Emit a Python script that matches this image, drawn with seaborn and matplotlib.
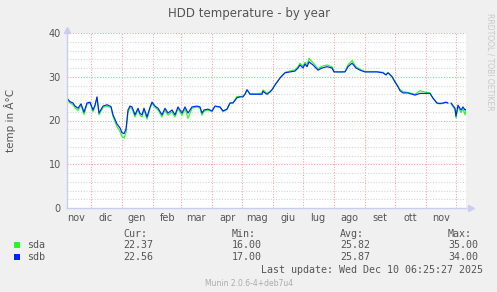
import numpy as np
import pandas as pd
import matplotlib
matplotlib.use("Agg")
import matplotlib.pyplot as plt
import matplotlib.dates as mdates
from matplotlib.ticker import MultipleLocator, FixedLocator, FixedFormatter, NullFormatter
from matplotlib.patches import Rectangle
import seaborn as sns

# ---------------- data ----------------
start_date = "2024-11-07"
end_date = "2025-12-11"

days = [0, 3, 6, 8, 11, 14, 17, 20, 23, 26, 28, 30, 32, 36, 40, 44, 46, 50, 53, 55,
        57, 59, 61, 63, 65, 68, 71, 73, 75, 77, 80, 83, 85, 88, 91, 95, 98, 101, 105, 108,
        111, 115, 118, 121, 125, 130, 133, 135, 137, 141, 145, 148, 153, 156, 160, 163, 166, 170, 173, 176,
        178, 180, 183, 190, 195, 196, 198, 200, 203, 205, 208, 213, 218, 223, 228, 231, 233, 236, 238, 240,
        242, 246, 251, 255, 260, 265, 267, 272, 278, 281, 285, 289, 293, 298, 303, 310, 316, 319, 321, 325,
        328, 331, 333, 336, 341, 348, 353, 360, 363, 366, 370, 373, 376, 379, 381, 382, 384, 388, 389, 391,
        394, 396, 398, 399]

sdb = [25.1, 24.3, 24.0, 23.3, 22.8, 23.8, 21.9, 24.0, 24.2, 22.4, 23.5, 25.4, 21.7, 23.3, 23.6, 23.2, 21.3, 19.2, 18.3, 17.2,
       17.0, 18.0, 22.4, 23.3, 23.1, 21.3, 22.8, 21.6, 21.3, 22.8, 20.8, 23.0, 24.2, 23.3, 22.8, 21.3, 22.8, 21.7, 22.4, 21.3,
       23.1, 21.7, 23.1, 21.7, 23.1, 23.3, 23.1, 21.7, 22.4, 22.6, 22.2, 23.3, 23.1, 22.2, 22.6, 24.0, 24.0, 25.2, 25.4, 25.4,
       26.0, 27.0, 26.0, 26.0, 26.0, 26.7, 26.3, 26.0, 26.5, 27.0, 28.1, 29.7, 30.9, 31.1, 31.3, 32.0, 32.7, 32.0, 32.9, 32.3,
       33.4, 32.7, 31.5, 32.0, 32.3, 32.0, 31.1, 31.1, 31.1, 32.3, 33.1, 32.0, 31.5, 31.1, 31.1, 31.1, 30.9, 30.4, 30.9, 30.0,
       28.8, 27.7, 26.8, 26.3, 26.3, 25.8, 26.2, 26.2, 26.2, 25.1, 24.0, 23.9, 24.0, 24.2, 24.0, np.nan, 24.0, 22.8, 21.0, 23.5,
       22.4, 23.1, 22.4, 22.56]

sda = [24.9, 24.0, 23.6, 22.9, 22.3, 23.5, 21.4, 23.7, 24.0, 22.0, 23.2, 25.2, 21.3, 23.0, 23.3, 22.9, 20.9, 18.6, 17.5, 16.3,
       16.0, 17.2, 21.9, 23.0, 22.7, 20.8, 22.4, 21.2, 20.8, 22.4, 20.3, 22.7, 23.9, 23.0, 22.4, 20.8, 22.4, 21.2, 22.0, 20.8,
       22.7, 21.2, 22.7, 20.5, 22.8, 23.1, 22.8, 21.2, 22.1, 22.4, 22.0, 23.2, 23.0, 22.0, 22.5, 24.0, 24.1, 25.5, 25.5, 25.6,
       26.1, 27.1, 26.1, 26.1, 26.3, 27.0, 26.6, 26.2, 26.7, 27.1, 28.2, 29.8, 31.0, 31.3, 31.6, 32.3, 33.1, 32.4, 33.3, 32.7,
       34.2, 33.2, 31.8, 32.4, 32.7, 32.3, 31.2, 31.1, 31.2, 32.7, 33.7, 32.3, 31.7, 31.2, 31.2, 31.2, 31.0, 30.5, 31.0, 30.1,
       28.9, 27.9, 27.1, 26.6, 26.4, 26.0, 26.8, 26.4, 26.3, 25.1, 23.9, 23.8, 23.9, 24.1, 23.9, np.nan, 23.8, 22.5, 20.6, 23.2,
       21.8, 22.7, 21.3, 22.37]

series_names = ["sda", "sdb"]
series_colors = ["#22FF22", "#0022FF"]
month_labels = ["nov", "dic", "gen", "feb", "mar", "apr", "mag", "giu", "lug", "ago", "set", "ott", "nov"]
cur_vals = [22.37, 22.56]
min_vals = [16.00, 17.00]
avg_vals = [25.82, 25.87]
max_vals = [35.00, 34.00]
title = "HDD temperature - by year"
ylabel = "temp in Â°C"
last_update = "Last update: Wed Dec 10 06:25:27 2025"
footer = "Munin 2.0.6-4+deb7u4"
side_text = "RRDTOOL / TOBI OETIKER"

# ---------------- frame ----------------
start = pd.Timestamp(start_date)
end = pd.Timestamp(end_date)
dates = start + pd.to_timedelta(days, unit="D")
df = pd.DataFrame({"date": dates, "sda": sda, "sdb": sdb})
# segment id so that missing samples break the lines (as rrdtool does)
df["seg"] = df["sdb"].isna().cumsum()
long = df.melt(id_vars=["date", "seg"], var_name="disk", value_name="temp").dropna()

sns.set_theme(style="white")
plt.rcParams["font.family"] = ["DejaVu Sans"]

W, H = 497, 292
fig = plt.figure(figsize=(W / 100, H / 100), dpi=100, facecolor="#F0F0F0")
ax = fig.add_axes([67 / W, (H - 208) / H, 399 / W, 175 / H])
ax.set_facecolor("white")

sns.lineplot(data=long, x="date", y="temp", hue="disk", units="seg", hue_order=series_names,
             palette=dict(zip(series_names, series_colors)), estimator=None,
             linewidth=0.85, legend=False, ax=ax, zorder=3)

ax.set_xlim(start, end)
ax.set_ylim(0, 40)
ax.set_xlabel("")
ax.set_ylabel("")

# month boundaries (grid) and mid-month labels
month_starts = pd.date_range(start.to_period("M").to_timestamp() + pd.offsets.MonthBegin(1), end, freq="MS")
mid_months = pd.date_range(start.to_period("M").to_timestamp(), end, freq="MS") + pd.Timedelta(days=15)
mid_months = [d for d in mid_months if start <= d <= end]
ax.xaxis.set_major_locator(FixedLocator(mdates.date2num(month_starts)))
ax.xaxis.set_major_formatter(NullFormatter())
ax.xaxis.set_minor_locator(FixedLocator(mdates.date2num(mid_months)))
ax.xaxis.set_minor_formatter(FixedFormatter(month_labels[:len(mid_months)]))

ax.yaxis.set_major_locator(MultipleLocator(10))
ax.yaxis.set_minor_locator(MultipleLocator(2))

grid_red = "#F4A0A0"
grid_gray = "#D4D4D4"
dots = (0, (1, 1.6))
ax.set_axisbelow(True)
ax.xaxis.grid(True, which="major", color=grid_red, linestyle=dots, linewidth=0.75)
ax.yaxis.grid(True, which="minor", color=grid_gray, linestyle=dots, linewidth=0.75)
ax.yaxis.grid(True, which="major", color=grid_red, linestyle=dots, linewidth=0.75)

ax.tick_params(axis="x", which="major", length=2.5, width=0.6, color=grid_red, direction="out")
ax.tick_params(axis="x", which="minor", length=0, labelsize=7, labelcolor="#555555", pad=3.5)
ax.tick_params(axis="y", which="both", length=0, labelsize=7, labelcolor="#555555", pad=4.5)

for s in ["top", "right"]:
    ax.spines[s].set_visible(False)
for s in ["left", "bottom"]:
    ax.spines[s].set_color("#CCCCF0")
    ax.spines[s].set_linewidth(1.0)
    ax.spines[s].set_zorder(4)
ax.plot([0], [1.015], marker="^", markersize=5, color="#CCCCF0", transform=ax.transAxes, clip_on=False)
ax.plot([1.012], [0], marker=">", markersize=5, color="#CCCCF0", transform=ax.transAxes, clip_on=False)

# ---------------- texts ----------------
fig.text(249 / W, 1 - 13 / H, title, ha="center", va="center", fontsize=8.5, color="#555555")
fig.text(10 / W, 1 - 120 / H, ylabel, ha="center", va="center", rotation=90, fontsize=7.5, color="#555555")
fig.text(490 / W, 1 - 62 / H, side_text, ha="center", va="center", rotation=270, fontsize=5.5, color="#C8C8C8")

mono = "DejaVu Sans Mono"
fs = 7.2
tc = "#555555"
cols = [123, 232, 340, 448]
for x, h in zip(cols, ["Cur:", "Min:", "Avg:", "Max:"]):
    fig.text(x / W, 1 - 234 / H, h, ha="left", va="center", family=mono, fontsize=fs, color=tc)
rows_y = [245, 257]
for i, name in enumerate(series_names):
    y = rows_y[i]
    fig.patches.append(Rectangle((14 / W, 1 - (y + 3) / H), 6 / W, 6 / H, transform=fig.transFigure,
                                 facecolor=series_colors[i], edgecolor="none"))
    fig.text(27 / W, 1 - y / H, name, ha="left", va="center", family=mono, fontsize=fs, color=tc)
    for x, v in zip(cols, [cur_vals[i], min_vals[i], avg_vals[i], max_vals[i]]):
        fig.text(x / W, 1 - y / H, f"{v:.2f}", ha="left", va="center", family=mono, fontsize=fs, color=tc)
fig.text(483 / W, 1 - 270 / H, last_update, ha="right", va="center", family=mono, fontsize=fs, color=tc)
fig.text(249 / W, 1 - 283 / H, footer, ha="center", va="center", fontsize=5.5, color="#ABABAB")

fig.savefig("out.png", dpi=100, facecolor=fig.get_facecolor())
